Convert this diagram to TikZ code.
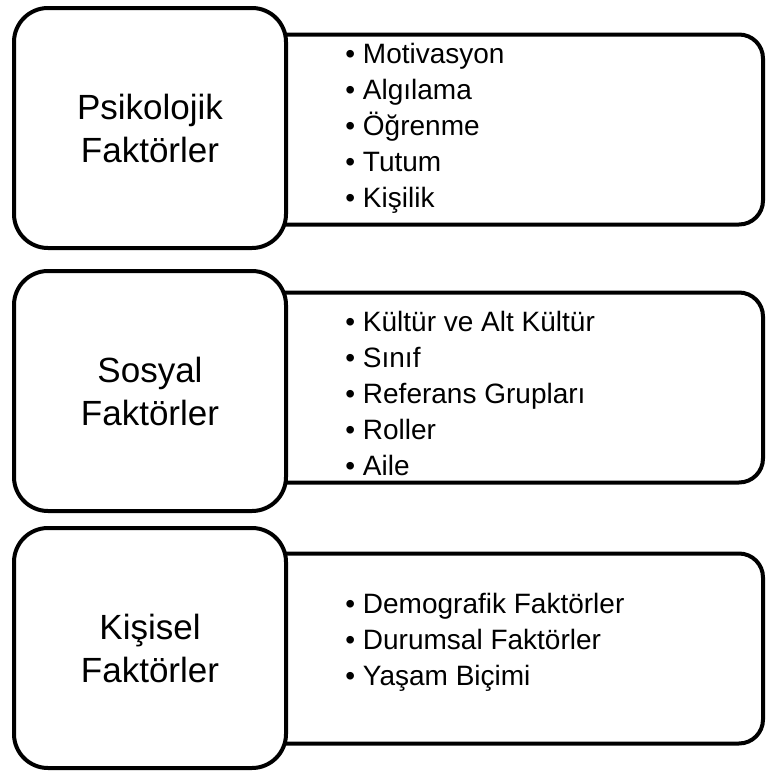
\documentclass[tikz,border=0pt]{standalone}
\usepackage{fontspec}
\setmainfont{Liberation Sans}
\usetikzlibrary{positioning}

\begin{document}
\begin{tikzpicture}[x=0.5pt,y=-0.5pt]
    % Define node styles
    \tikzstyle{box}=[draw, line width=2pt, fill=white, inner sep=0pt]
    \tikzstyle{factor box}=[box, rounded corners=17pt, minimum width=136pt, minimum height=120pt, align=center, font=\fontsize{17.5}{21.5}\selectfont]
    \tikzstyle{list box}=[box, rounded corners=12pt, minimum width=256.5pt, minimum height=95pt]
    \tikzstyle{items}=[anchor=west, align=left, inner sep=0pt, font=\fontsize{14}{18}\selectfont]

    \useasboundingbox (0,0) rectangle (768,771);

    % Draw list boxes (behind)
    \node[list box] (L-1) at (506.5,129.5) {};
    \node[list box] (L-2) at (506.5,387.5) {};
    \node[list box] (L-3) at (506.5,648.5) {};

    % Draw factor boxes
    \node[factor box] (F-1) at (150,128) {Psikolojik\\Faktörler};
    \node[factor box] (F-2) at (150,391) {Sosyal\\Faktörler};
    \node[factor box] (F-3) at (150,648) {Kişisel\\Faktörler};

    % Items
    \node[items] (T-1) at (345,128) {• Motivasyon\\• Algılama\\• Öğrenme\\• Tutum\\• Kişilik};
    \node[items] (T-2) at (345,393) {• Kültür ve Alt Kültür\\• Sınıf\\• Referans Grupları\\• Roller\\• Aile};
    \node[items] (T-3) at (345,642) {• Demografik Faktörler\\• Durumsal Faktörler\\• Yaşam Biçimi};
\end{tikzpicture}
\end{document}
